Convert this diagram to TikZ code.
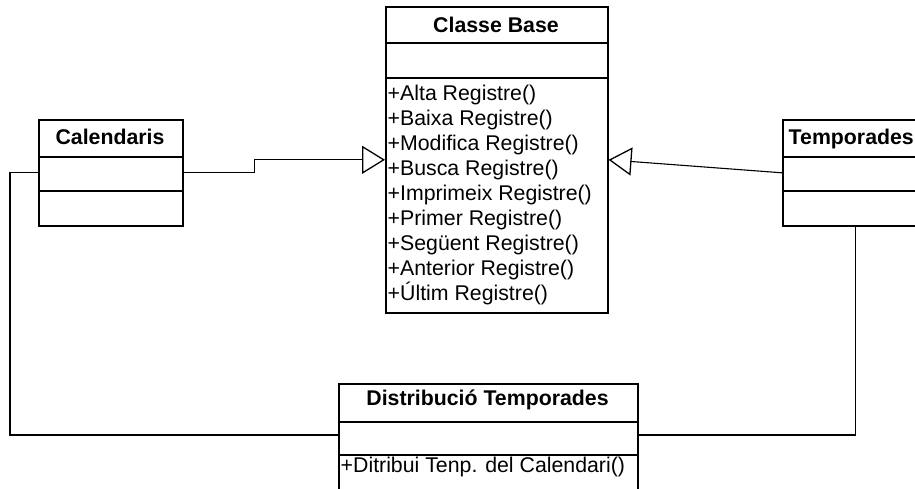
\documentclass[tikz,border=0pt]{standalone}
\usepackage{fontspec}
\setmainfont{Liberation Sans}
\usetikzlibrary{arrows.meta,calc}
\begin{document}
\begin{tikzpicture}[x=1pt,y=-1pt,
 box/.style={draw, line width=1.6pt, anchor=north west, inner sep=0pt},
 divider/.style={line width=1.6pt},
 title/.style={font=\fontsize{21.3}{24}\selectfont\bfseries, anchor=base, inner sep=0pt},
 meth/.style={font=\fontsize{21.3}{25}\selectfont, anchor=base west, inner sep=0pt},
 conn/.style={line width=1.1pt},
 gen/.style={conn, -{Triangle[open, length=23pt, width=28pt, line width=1.3pt]}}
]
\useasboundingbox (0,0) rectangle (915,488);
\clip (0,0) rectangle (915,488);

% Classe Base
\node[box, minimum width=222pt, minimum height=306pt] (cb) at (385,6) {};
\draw[divider] (cb.west |- 0,43) -- (cb.east |- 0,43);
\draw[divider] (cb.west |- 0,78) -- (cb.east |- 0,78);
\node[title] (cbt) at (496,32) {Classe Base};
\foreach \t [count=\i from 0] in {+Alta Registre(),+Baixa Registre(),+Modifica Registre(),+Busca Registre(),+Imprimeix Registre(),+Primer Registre(),+Següent Registre(),+Anterior Registre(),+Últim Registre()}
  \node[meth] (m\i) at (387.5,{100+25*\i}) {\t};

% Calendaris
\node[box, minimum width=144pt, minimum height=106pt] (cal) at (38,119) {};
\draw[divider] (cal.west |- 0,157) -- (cal.east |- 0,157);
\draw[divider] (cal.west |- 0,191) -- (cal.east |- 0,191);
\node[title] (calt) at (110,144) {Calendaris};

% Temporades
\node[box, minimum width=146pt, minimum height=106pt] (temp) at (782,119) {};
\draw[divider] (temp.west |- 0,157) -- (temp.east |- 0,157);
\draw[divider] (temp.west |- 0,191) -- (temp.east |- 0,191);
\node[title, anchor=base east] (tempt) at (914,144) {Temporades};

% Distribucio Temporades
\node[box, minimum width=299pt, minimum height=115pt] (dist) at (338,383) {};
\draw[divider] (dist.west |- 0,422) -- (dist.east |- 0,422);
\draw[divider] (dist.west |- 0,455) -- (dist.east |- 0,455);
\node[title] (distt) at (487.5,405) {Distribució Temporades};
\node[meth] (dm) at (340.5,472) {+Ditribui Tenp. del Calendari()};

% connectors
\coordinate (dl) at ($(dist.north west)+(0,52)$);
\coordinate (dr) at ($(dist.north east)+(0,52)$);
\draw[gen] (cal.east) -- ++(71,0) |- (cb.west);
\draw[gen] (temp.west) -- (cb.east);
\draw[conn] (cal.west) -- ++(-28,0) |- (dl);
\draw[conn] (temp.south) |- (dr);
\end{tikzpicture}
\end{document}
